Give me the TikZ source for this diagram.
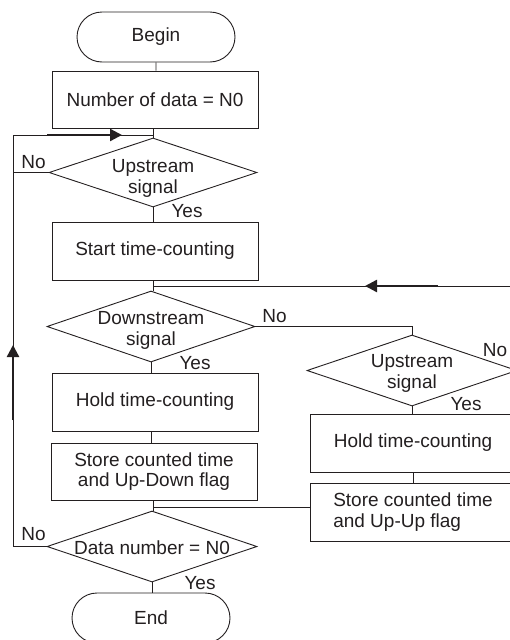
\documentclass[tikz,border=0pt]{standalone}
\usepackage{fontspec}
\setmainfont{Liberation Sans}
\usepackage{tikz}
\usetikzlibrary{arrows.meta,positioning,calc,shapes.geometric,shapes.misc}
\definecolor{ink}{HTML}{231F20}

\begin{document}
\begin{tikzpicture}[
  x=1pt, y=-1pt, color=ink, line width=0.9pt,
  font=\fontsize{19}{20.5}\selectfont,
  term/.style={draw, rounded rectangle, minimum width=158pt, minimum height=50pt,
               inner sep=0pt},
  proc/.style={draw, rectangle, minimum width=206pt, minimum height=57pt,
               inner sep=0pt, align=center},
  decision/.style={draw, diamond, minimum width=208pt, minimum height=70pt,
                   inner sep=0pt},
  flowarrow/.style={-{Triangle[length=12pt,width=12pt]}, line width=2.4pt},
  yn/.style={inner sep=0pt}
]
  \clip (0,0) rectangle (510,640);
  \def\xm{153} \def\xr{413} \def\xl{13}
  % main column
  \node[term] (begin) at (\xm+3,37) {Begin};
  \node[proc] (init) at (\xm+2,99.5) {Number of data = N0};
  \node[decision, minimum height=69pt,
        label={[align=center, yshift=-6pt]center:Upstream\\signal}] (up) at (\xm,172.5) {};
  \node[proc, minimum height=58pt] (start) at (\xm+2,251) {Start time-counting};
  \node[decision, minimum height=71pt,
        label={[align=center, yshift=-4pt]center:Downstream\\signal}] (down) at (\xm-2,326.5) {};
  \node[proc, minimum height=58pt] (hold) at (\xm+2,402) {Hold time-counting};
  \node[proc] (store) at (\xm+1,471.5) {Store counted time\\and Up-Down flag};
  \node[decision, minimum width=210pt, minimum height=71pt,
        label={[yshift=-1pt]center:Data number = N0}] (check) at (\xm-1,546.5) {};
  \node[term] (end) at (\xm-2,618) {End};
  % right column
  \node[decision, minimum width=210pt, minimum height=71pt,
        label={[align=center, yshift=-3pt]center:Upstream\\signal}] (upr) at (\xr-1,370.5) {};
  \node[proc, minimum height=58pt] (holdr) at (\xr,443) {Hold time-counting};
  \node[proc, minimum height=58pt, align=left] (storer) at (\xr,512) {Store counted time\\and Up-Up flag};
  % junctions
  \coordinate (jtop) at (\xm,135);
  \coordinate (ltop) at (\xl,135);
  \coordinate (jmid) at (\xm,286);
  \coordinate (rtop) at (530,286);
  \coordinate (jbot) at (\xm,507);
  % connectors
  \draw (begin) -- (begin |- init.north);
  \draw (init.south -| jtop) -- (up.north);
  \draw (up.south) -- (up.south |- start.north);
  \draw (start.south -| jmid) -- (down.north -| jmid);
  \draw (down.south) -- (down.south |- hold.north);
  \draw (hold.south -| down.south) -- (store.north -| down.south);
  \draw (store.south -| jbot) -- (check.north -| jbot);
  \draw (check.south) -- (end.north -| check.south);
  % No loop (left)
  \draw (up.west) -- (up.west -| ltop);
  \draw (check.west) -| (ltop) -- (jtop);
  % No loop (right)
  \draw (down.east) -| (upr.north);
  \draw (upr.east) -| (rtop) -- (jmid);
  \draw (upr.south) -- (upr.south |- holdr.north);
  \draw (holdr) -- (storer);
  \draw (jbot) -- (storer.west |- jbot);
  % arrow marks
  \coordinate (atop0) at (47,135);  \coordinate (atop1) at (122,135);
  \coordinate (aleft0) at (\xl,420); \coordinate (aleft1) at (\xl,345);
  \coordinate (aright0) at (438,286); \coordinate (aright1) at (365,286);
  \draw[flowarrow] (atop0) -- (atop1);
  \draw[flowarrow] (aleft0) -- (aleft1);
  \draw[flowarrow] (aright0) -- (aright1);
  % Yes / No
  \node[yn] (no1) at (33.5,162.5) {No};
  \node[yn] (yes1) at (187,211.5) {Yes};
  \node[yn] (no2) at (274.5,316) {No};
  \node[yn] (yes2) at (195,363.5) {Yes};
  \node[yn] (no3) at (495,350.5) {No};
  \node[yn] (yes3) at (466,404.5) {Yes};
  \node[yn] (no4) at (33.5,534) {No};
  \node[yn] (yes4) at (200,583.5) {Yes};
\end{tikzpicture}
\end{document}
